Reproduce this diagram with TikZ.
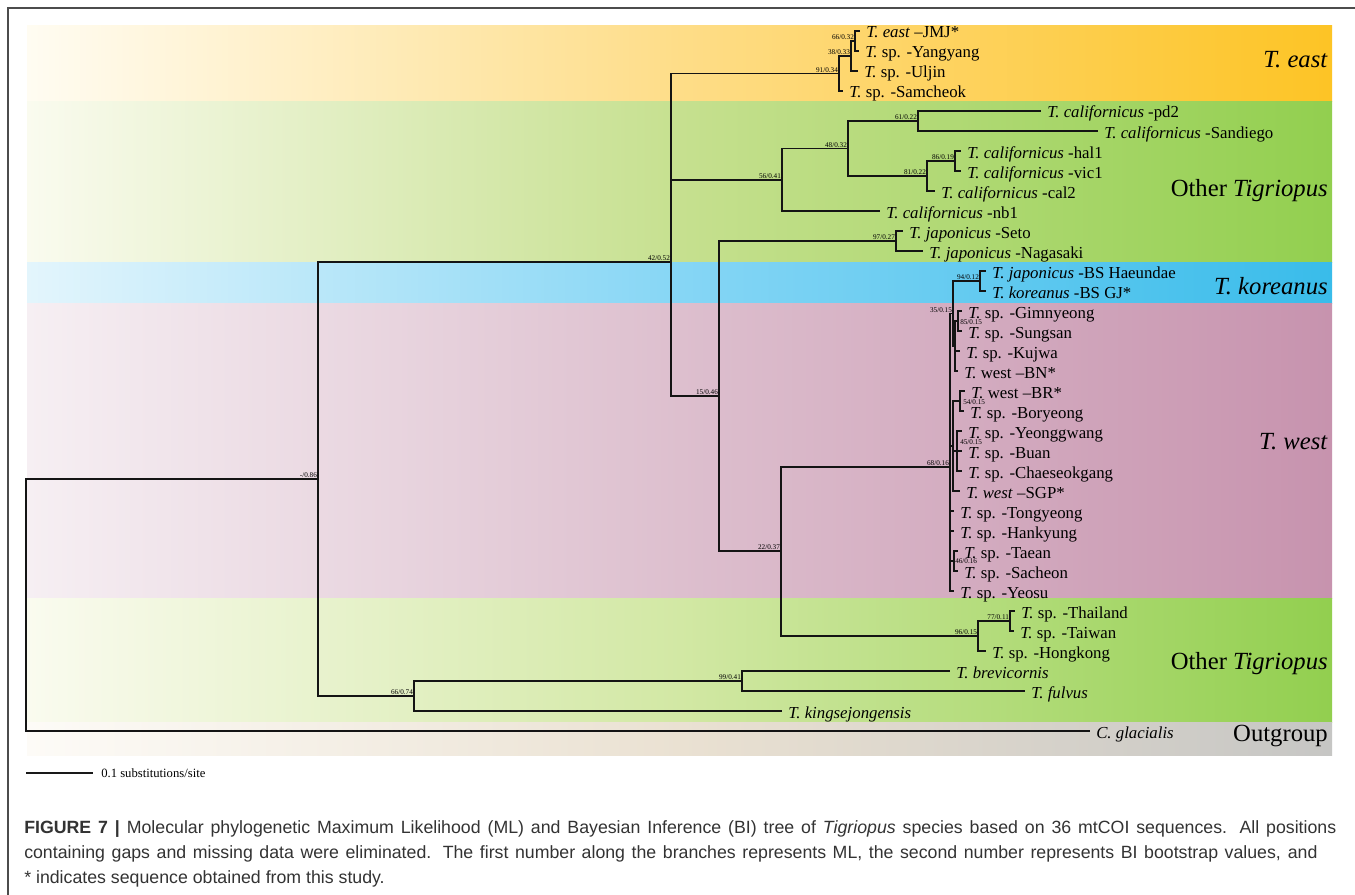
\documentclass[tikz,border=0pt]{standalone}
\usepackage{fontspec}
\setmainfont{Liberation Serif}
\newfontfamily\capfont{Liberation Sans}
\usetikzlibrary{calc}
\definecolor{eA}{HTML}{FFFCF2}\definecolor{eB}{HTML}{FEDD88}\definecolor{eC}{HTML}{FDC425}
\definecolor{gA}{HTML}{FAFBEF}\definecolor{gB}{HTML}{C6E08F}\definecolor{gC}{HTML}{92CF4F}
\definecolor{hA}{HTML}{FAFBEF}\definecolor{hB}{HTML}{D2E8A4}\definecolor{hC}{HTML}{92CF4F}
\definecolor{kA}{HTML}{E3F5FC}\definecolor{kB}{HTML}{86D6F5}\definecolor{kC}{HTML}{39BCEA}
\definecolor{wA}{HTML}{F6EFF3}\definecolor{wB}{HTML}{DDBFCE}\definecolor{wC}{HTML}{C793AE}
\definecolor{oA}{HTML}{FDFBF7}\definecolor{oB}{HTML}{EAE1D2}\definecolor{oC}{HTML}{C6C6C4}
\newcommand\leafat[4]{%
  \coordinate (#1) at (#2,{31+20*#3});
  \node[leaf] (#1-t) at ({#2+6},{38+20*#3}) {#4};}
\newcommand\band[3]{%
  \fill[left color=#3A,right color=#3B] (27,#1) rectangle (681,#2);
  \fill[left color=#3B,right color=#3C] (680,#1) rectangle (1332,#2);}
\begin{document}
\begin{tikzpicture}[x=0.75pt,y=-0.75pt,
  br/.style={draw=black!92,line width=1.15pt},
  leaf/.style={anchor=base west,inner sep=0pt,font=\fontsize{12.6}{14}\selectfont},
  bs/.style={anchor=south east,inner sep=0.6pt,font=\fontsize{5.4}{6}\selectfont},
  bsr/.style={anchor=west,inner sep=0pt,font=\fontsize{5.4}{6}\selectfont},
  grp/.style={anchor=base east,inner sep=0pt,font=\fontsize{18.5}{20}\selectfont},
  captext/.style={anchor=base west,inner sep=0pt,text=black!80,font=\capfont\fontsize{13.3}{16}\selectfont}]
\useasboundingbox (0,0) rectangle (1355,895);
\fill[white] (0,0) rectangle (1355,895);
% bands
\band{26}{102}{e}
\band{102}{262}{g}
\band{262}{303}{k}
\band{303}{598}{w}
\band{598}{722}{h}
\band{722}{755}{o}
% frame
\draw[black!70,line width=1.1pt] (8,895) -- (8,8) -- (1355,8);
% group labels
\node[grp] (gEast) at (1328,68) {\textit{T. east}};
\node[grp] (gOther1) at (1328,196) {Other \textit{Tigriopus}};
\node[grp] (gKor) at (1328,294) {\textit{T. koreanus}};
\node[grp] (gWest) at (1328,449) {\textit{T. west}};
\node[grp] (gOther2) at (1328,669) {Other \textit{Tigriopus}};
\node[grp] (gOut) at (1328,741) {Outgroup};
% internal nodes
\coordinate (R) at (26,605);
\coordinate (A) at (318,479);
\coordinate (B) at (671,262);
\coordinate (Neast) at (839,73.5);
\coordinate (N38) at (851,56);
\coordinate (N66a) at (855,41);
\coordinate (N56) at (782,180);
\coordinate (N48) at (848,148.5);
\coordinate (N61) at (918,121);
\coordinate (N81) at (927,176);
\coordinate (N86) at (955,161);
\coordinate (N15) at (719,396);
\coordinate (N97) at (896,241);
\coordinate (N22) at (781,551);
\coordinate (N68) at (950,467);
\coordinate (N35) at (953,313.5);
\coordinate (N94) at (980,281);
\coordinate (Ngk) at (955,346);
\coordinate (N85) at (958,321);
\coordinate (Nwb) at (953,446);
\coordinate (N54) at (960,401);
\coordinate (N45) at (957,451);
\coordinate (N46) at (954,561);
\coordinate (N96) at (978,636);
\coordinate (N77) at (1010,621);
\coordinate (N66b) at (414,696);
\coordinate (N99) at (742,681);
% leaves
\leafat{jmj}{860}{0}{\textit{T. east} --JMJ*}
\leafat{yang}{859}{1}{\textit{T.} sp. -Yangyang}
\leafat{ulj}{858}{2}{\textit{T.} sp. -Uljin}
\leafat{sam}{843}{3}{\textit{T.} sp. -Samcheok}
\leafat{pd2}{1041}{4}{\textit{T. californicus} -pd2}
\leafat{sdg}{1098}{5}{\textit{T. californicus} -Sandiego}
\leafat{hal}{961}{6}{\textit{T. californicus} -hal1}
\leafat{vic}{961}{7}{\textit{T. californicus} -vic1}
\leafat{cal}{935}{8}{\textit{T. californicus} -cal2}
\leafat{nb}{880}{9}{\textit{T. californicus} -nb1}
\leafat{seto}{903}{10}{\textit{T. japonicus} -Seto}
\leafat{naga}{923}{11}{\textit{T. japonicus} -Nagasaki}
\leafat{hae}{986}{12}{\textit{T. japonicus} -BS Haeundae}
\leafat{gj}{986}{13}{\textit{T. koreanus} -BS GJ*}
\leafat{gim}{962}{14}{\textit{T.} sp. -Gimnyeong}
\leafat{sung}{962}{15}{\textit{T.} sp. -Sungsan}
\leafat{kuj}{960}{16}{\textit{T.} sp. -Kujwa}
\leafat{bn}{958}{17}{\textit{T.} west --BN*}
\leafat{brx}{965}{18}{\textit{T.} west --BR*}
\leafat{bory}{964}{19}{\textit{T.} sp. -Boryeong}
\leafat{yeong}{962}{20}{\textit{T.} sp. -Yeonggwang}
\leafat{buan}{962}{21}{\textit{T.} sp. -Buan}
\leafat{chae}{962}{22}{\textit{T.} sp. -Chaeseokgang}
\leafat{sgp}{960}{23}{\textit{T. west} --SGP*}
\leafat{tong}{954}{24}{\textit{T.} sp. -Tongyeong}
\leafat{hank}{954}{25}{\textit{T.} sp. -Hankyung}
\leafat{taean}{958}{26}{\textit{T.} sp. -Taean}
\leafat{sach}{958}{27}{\textit{T.} sp. -Sacheon}
\leafat{yeosu}{954}{28}{\textit{T.} sp. -Yeosu}
\leafat{thai}{1015}{29}{\textit{T.} sp. -Thailand}
\leafat{taiw}{1014}{30}{\textit{T.} sp. -Taiwan}
\leafat{hong}{986}{31}{\textit{T.} sp. -Hongkong}
\leafat{brev}{950}{32}{\textit{T. brevicornis}}
\leafat{fulv}{1025}{33}{\textit{T. fulvus}}
\leafat{king}{782}{34}{\textit{T. kingsejongensis}}
\leafat{glac}{1090}{35}{\textit{C. glacialis}}
% branches
\draw[br] (R) |- (A) (R) |- (glac)
  (A) |- (B) (A) |- (N66b)
  (B) |- (Neast) (B) |- (N56) (B) |- (N15)
  (Neast) |- (N38) (Neast) |- (sam)
  (N38) |- (N66a) (N38) |- (ulj)
  (N66a) |- (jmj) (N66a) |- (yang)
  (N56) |- (N48) (N56) |- (nb)
  (N48) |- (N61) (N48) |- (N81)
  (N61) |- (pd2) (N61) |- (sdg)
  (N81) |- (N86) (N81) |- (cal)
  (N86) |- (hal) (N86) |- (vic)
  (N15) |- (N97) (N15) |- (N22)
  (N97) |- (seto) (N97) |- (naga)
  (N22) |- (N68) (N22) |- (N96)
  (N68) |- (N35) (N68) |- (Nwb) (N68) |- (tong) (N68) |- (hank) (N68) |- (N46) (N68) |- (yeosu)
  (N35) |- (N94) (N35) |- (Ngk)
  (N94) |- (hae) (N94) |- (gj)
  (Ngk) |- (N85) (Ngk) |- (kuj) (Ngk) |- (bn)
  (N85) |- (gim) (N85) |- (sung)
  (Nwb) |- (N54) (Nwb) |- (N45) (Nwb) |- (sgp)
  (N54) |- (brx) (N54) |- (bory)
  (N45) |- (yeong) (N45) |- (buan) (N45) |- (chae)
  (N46) |- (taean) (N46) |- (sach)
  (N96) |- (N77) (N96) |- (hong)
  (N77) |- (thai) (N77) |- (taiw)
  (N66b) |- (N99) (N66b) |- (king)
  (N99) |- (brev) (N99) |- (fulv);
% support labels
\node[bs] (b1) at (N66a) {66/0.32};
\node[bs] (b2) at (N38) {38/0.33};
\node[bs] (b3) at (Neast) {91/0.34};
\node[bs] (b4) at (B) {42/0.52};
\node[bs] (b5) at (N56) {56/0.41};
\node[bs] (b6) at (N48) {48/0.32};
\node[bs] (b7) at (N61) {61/0.22};
\node[bs] (b8) at (N81) {81/0.22};
\node[bs] (b9) at (N86) {86/0.19};
\node[bs] (b10) at (N97) {97/0.27};
\node[bs] (b11) at (N15) {15/0.46};
\node[bs] (b12) at (N22) {22/0.37};
\node[bs] (b13) at (N68) {68/0.16};
\node[bs] (b14) at (N94) {94/0.12};
\node[bs] (b15) at (N35) {35/0.15};
\node[bsr] (b16) at (960,322) {85/0.15};
\node[bsr] (b17) at (963,402) {54/0.15};
\node[bsr] (b18) at (960,442) {45/0.15};
\node[bsr] (b19) at (955,561) {46/0.16};
\node[bs] (b20) at (N96) {96/0.15};
\node[bs] (b21) at (N77) {77/0.11};
\node[bs] (b22) at (N99) {99/0.41};
\node[bs] (b23) at (N66b) {66/0.74};
\node[bs] (b24) at (A) {-/0.86};
% scale bar
\coordinate (sbA) at (26,773);
\coordinate (sbB) at (93,773);
\draw[black!90,line width=0.8pt] (sbA) -- (sbB);
\node[anchor=base west,inner sep=0pt,font=\fontsize{9.5}{11}\selectfont] (sbl) at (101,777) {0.1 substitutions/site};
% caption
\node[captext] (cap1) at (24,833) {\makebox[984pt][s]{\textbf{FIGURE 7 |} Molecular phylogenetic Maximum Likelihood (ML) and Bayesian Inference (BI) tree of \textit{Tigriopus} species based on 36 mtCOI sequences. All positions}};
\node[captext] (cap2) at (24,858) {\makebox[970pt][s]{containing gaps and missing data were eliminated. The first number along the branches represents ML, the second number represents BI bootstrap values, and}};
\node[captext] (cap3) at (24,883) {* indicates sequence obtained from this study.};
\end{tikzpicture}
\end{document}
